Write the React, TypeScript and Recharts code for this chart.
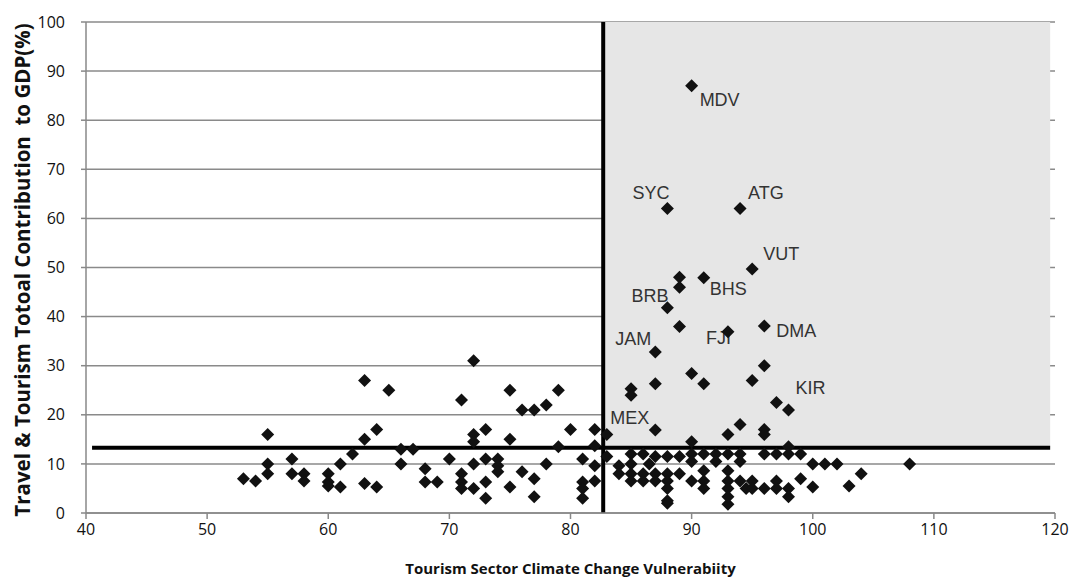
import { ScatterChart, Scatter, XAxis, YAxis, CartesianGrid, ReferenceArea, ReferenceLine } from 'recharts'

// unlabelled countries: vulnerability score (x) and T&T share of GDP (y)
const vulnerability = [
  53, 54, 55, 55, 55, 57, 57, 58, 58, 60, 60, 60, 61, 61, 62, 63, 63, 63, 64, 64,
  65, 66, 66, 67, 68, 68, 69, 70, 71, 71, 71, 71, 72, 72, 72, 72, 72, 73, 73, 73,
  73, 74, 74, 74, 75, 75, 75, 76, 76, 77, 77, 77, 78, 78, 79, 79, 80, 81, 81, 81,
  81, 82, 82, 82, 82,
  83, 90, 93, 94, 96, 96, 98,
  83, 85, 86, 87, 88, 89, 90, 91, 92, 93, 94, 96, 97, 98, 99,
  84, 85, 86.5, 90, 92, 94, 100, 101, 102, 108,
  84, 85, 86, 87, 88, 89, 91, 93, 104,
  85, 86, 87, 88, 90, 91, 93, 94, 95, 97, 99,
  88, 91, 93, 94.5, 95, 96, 97, 98, 100, 103,
  88, 88, 93, 93, 98,
  89, 89, 89, 96, 90, 91, 95, 87, 85, 85, 97,
]
const gdpShare = [
  7, 6.5, 16, 10, 8, 11, 8, 8, 6.5, 8, 6.3, 5.5, 10, 5.3, 12, 27, 15, 6, 17, 5.3,
  25, 13, 10, 13, 9, 6.3, 6.3, 11, 23, 8, 6.3, 5, 31, 16, 14.5, 10, 5, 17, 11, 6.3,
  3, 11, 9.6, 8.4, 25, 15, 5.3, 21, 8.4, 21, 7, 3.3, 22, 10, 25, 13.5, 17, 11, 6.3, 5,
  3, 17, 13.7, 9.6, 6.5,
  16, 14.5, 16, 18, 17, 16, 13.5,
  11.5, 12, 12, 11.5, 11.5, 11.5, 12, 12, 12, 12, 12, 12, 12, 12, 12,
  9.6, 10, 10, 10.5, 10.5, 10.5, 10, 10, 10, 10,
  8, 8, 8, 8, 8, 8, 8.6, 8.6, 8,
  6.5, 6.5, 6.5, 6.5, 6.5, 6.5, 6.5, 6.5, 6.5, 6.5, 7,
  5, 5, 5, 5, 5, 5, 5, 5, 5.3, 5.5,
  2.5, 2, 1.8, 3.3, 3.3,
  48, 46, 38, 30, 28.4, 26.3, 27, 26.3, 25.3, 24, 22.5,
]

// labelled countries
const codes = ['MDV', 'SYC', 'ATG', 'VUT', 'BHS', 'BRB', 'JAM', 'FJI', 'DMA', 'KIR', 'MEX']
const codeX = [90, 88, 94, 95, 91, 88, 87, 93, 96, 98, 87]
const codeY = [87, 62, 62, 49.7, 47.9, 41.8, 32.8, 36.9, 38.1, 21, 16.9]

const xTicks = [40, 50, 60, 70, 80, 90, 100, 110, 120]
const yTicks = [0, 10, 20, 30, 40, 50, 60, 70, 80, 90, 100]

const vulnerabilityCut = 82.7
const gdpCut = 13.3

// label placement around the marker: dx, dy, anchor
const LABEL_POS: Record<string, [number, number, string]> = {
  MDV: [8, 20, 'start'],
  SYC: [2, -10, 'end'],
  ATG: [8, -10, 'start'],
  VUT: [11, -9, 'start'],
  BHS: [6, 17, 'start'],
  BRB: [1, -6, 'end'],
  JAM: [-4, -7, 'end'],
  FJI: [3, 12, 'end'],
  DMA: [12, 11, 'start'],
  KIR: [7, -16, 'start'],
  MEX: [-6, -6, 'end'],
}

const points = vulnerability.map((x, i) => ({ x, y: gdpShare[i] }))
const labelled = codes.map((code, i) => ({ code, x: codeX[i], y: codeY[i] }))

const R = 6.5

function Diamond(props: any) {
  const { cx, cy } = props
  if (cx == null || cy == null) return null
  return <polygon points={`${cx},${cy - R} ${cx + R},${cy} ${cx},${cy + R} ${cx - R},${cy}`} fill="#111" />
}

function LabelledDiamond(props: any) {
  const { cx, cy, payload } = props
  if (cx == null || cy == null) return null
  const [dx, dy, anchor] = LABEL_POS[payload.code] || [8, 0, 'start']
  return (
    <g>
      <text x={cx + dx} y={cy + dy} textAnchor={anchor} fontSize={18} fill="#333" fontFamily="Liberation Sans, Arial, sans-serif">
        {payload.code}
      </text>
      <polygon points={`${cx},${cy - R} ${cx + R},${cy} ${cx},${cy + R} ${cx - R},${cy}`} fill="#111" />
    </g>
  )
}

const tickStyle = { fill: '#111', fontSize: 16, fontFamily: 'Open Sans, sans-serif' }

export default function App() {
  return (
    <div style={{ width: 1071, height: 579 }}>
      <style>{'body{margin:0;overflow:hidden} #root{width:1071px;height:579px}'}</style>
      <ScatterChart width={1071} height={579} margin={{ top: 22, right: 16, left: 26, bottom: 0 }}>
        <ReferenceArea
          x1={vulnerabilityCut}
          x2={119.6}
          y1={gdpCut}
          y2={100}
          fill="#e6e6e6"
          fillOpacity={1}
          stroke="none"
        />
        <CartesianGrid vertical={false} stroke="#8a8a8a" strokeWidth={1.5} />
        <XAxis
          type="number"
          dataKey="x"
          domain={[40, 120]}
          ticks={xTicks}
          tickSize={6}
          tickMargin={5}
          height={66}
          stroke="#888"
          axisLine={{ stroke: '#888', strokeWidth: 1.5 }}
          tickLine={{ stroke: '#888', strokeWidth: 1.5 }}
          tick={tickStyle}
          label={{
            value: 'Tourism Sector Climate Change Vulnerabiity',
            position: 'insideBottom',
            offset: 5,
            style: { fontSize: 15, fontWeight: 700, fill: '#111', fontFamily: 'Open Sans, sans-serif' },
          }}
        />
        <YAxis
          type="number"
          dataKey="y"
          domain={[0, 100]}
          ticks={yTicks}
          width={60}
          tickSize={5}
          tickMargin={16}
          stroke="#888"
          axisLine={{ stroke: '#888', strokeWidth: 1.5 }}
          tickLine={{ stroke: '#888', strokeWidth: 1.5 }}
          tick={tickStyle}
          label={{
            content: () => (
              <text
                x={22}
                y={270}
                transform="rotate(-90 22 270)"
                textAnchor="middle"
                dominantBaseline="central"
                fontSize={20.5}
                fontWeight={700}
                fill="#111"
                fontFamily="Open Sans, sans-serif"
                style={{ whiteSpace: 'pre' }}
              >
                Travel &amp; Tourism Totoal Contribution  to GDP(%)
              </text>
            ),
          }}
        />
        <ReferenceLine x={vulnerabilityCut} stroke="#000" strokeWidth={4} />
        <ReferenceLine
          segment={[{ x: 40.5, y: gdpCut }, { x: 119.6, y: gdpCut }]}
          stroke="#000"
          strokeWidth={4}
        />
        <Scatter data={points} shape={Diamond} isAnimationActive={false} />
        <Scatter data={labelled} shape={LabelledDiamond} isAnimationActive={false} />
      </ScatterChart>
    </div>
  )
}
